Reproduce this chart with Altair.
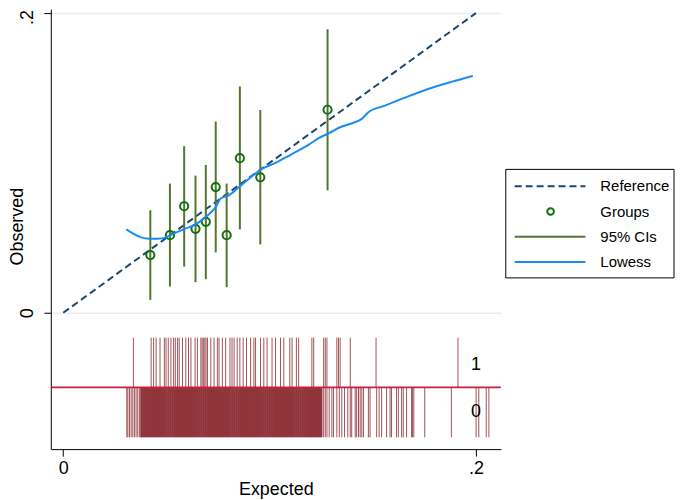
import altair as alt
import pandas as pd

# ---- data ----
grp_x = [0.0422, 0.0517, 0.0586, 0.0641, 0.0691, 0.0739, 0.0792, 0.0856, 0.0955, 0.1281]
grp_y = [0.0385, 0.0518, 0.0711, 0.0560, 0.0607, 0.0839, 0.0518, 0.1032, 0.0904, 0.1355]
ci_lo = [0.0086, 0.0175, 0.0308, 0.0204, 0.0224, 0.0403, 0.0171, 0.0556, 0.0456, 0.0817]
ci_hi = [0.0684, 0.0862, 0.1112, 0.0915, 0.0986, 0.1276, 0.0862, 0.1510, 0.1353, 0.1892]

low_x = [0.0305, 0.0337, 0.0377, 0.0417, 0.0458, 0.0498, 0.0538, 0.0594, 0.0643, 0.0691,
         0.0739, 0.0763, 0.0803, 0.0852, 0.0900, 0.0964, 0.1029, 0.1083, 0.1141, 0.1190,
         0.1238, 0.1290, 0.1342, 0.1400, 0.1447, 0.1479, 0.1559, 0.1672, 0.1768, 0.1881,
         0.1985]
low_y = [0.0556, 0.0530, 0.0503, 0.0494, 0.0494, 0.0503, 0.0530, 0.0563, 0.0591, 0.0640,
         0.0706, 0.0762, 0.0784, 0.0839, 0.0895, 0.0961, 0.1000, 0.1040, 0.1083, 0.1122,
         0.1165, 0.1200, 0.1238, 0.1265, 0.1294, 0.1338, 0.1382, 0.1444, 0.1493, 0.1541,
         0.1581]

ref_x = [0.0, 0.2]
ref_y = [0.0, 0.2]

rug1 = [0.0340, 0.0426, 0.0438, 0.0450, 0.0469, 0.0490, 0.0498, 0.0509, 0.0522, 0.0535,
        0.0543, 0.0554, 0.0562, 0.0578, 0.0594, 0.0607, 0.0619, 0.0639, 0.0650, 0.0667,
        0.0673, 0.0679, 0.0686, 0.0692, 0.0699, 0.0715, 0.0731, 0.0747, 0.0755, 0.0771,
        0.0787, 0.0808, 0.0818, 0.0828, 0.0843, 0.0856, 0.0872, 0.0888, 0.0908, 0.0924,
        0.0932, 0.0956, 0.0972, 0.0988, 0.1012, 0.1029, 0.1053, 0.1069, 0.1098, 0.1109,
        0.1130, 0.1141, 0.1205, 0.1214, 0.1262, 0.1270, 0.1278, 0.1326, 0.1334, 0.1342,
        0.1391, 0.1516, 0.1913]

rug0 = [0.0308, 0.0313, 0.0321, 0.0329, 0.0337, 0.0345, 0.0353, 0.0361, 0.0369, 0.0377,
        0.1262, 0.1270, 0.1278, 0.1289, 0.1302, 0.1310, 0.1326, 0.1338, 0.1350, 0.1363,
        0.1379, 0.1391, 0.1398, 0.1415, 0.1422, 0.1431, 0.1439, 0.1447, 0.1455, 0.1479,
        0.1487, 0.1519, 0.1531, 0.1543, 0.1567, 0.1584, 0.1591, 0.1615, 0.1624, 0.1640,
        0.1648, 0.1664, 0.1688, 0.1693, 0.1699, 0.1752, 0.1881, 0.2001, 0.2014, 0.2050,
        0.2063]

# densely packed part of the 0-rug (reads as a solid band)
rug0_dense = [0.038, 0.039, 0.040, 0.041, 0.042, 0.043, 0.044, 0.045, 0.046, 0.047,
              0.048, 0.049, 0.050, 0.051, 0.052, 0.053, 0.054, 0.055, 0.056, 0.057,
              0.058, 0.059, 0.060, 0.061, 0.062, 0.063, 0.064, 0.065, 0.066, 0.067,
              0.068, 0.069, 0.070, 0.071, 0.072, 0.073, 0.074, 0.075, 0.076, 0.077,
              0.078, 0.079, 0.080, 0.081, 0.082, 0.083, 0.084, 0.085, 0.086, 0.087,
              0.088, 0.089, 0.090, 0.091, 0.092, 0.093, 0.094, 0.095, 0.096, 0.097,
              0.098, 0.099, 0.100, 0.101, 0.102, 0.103, 0.104, 0.105, 0.106, 0.107,
              0.108, 0.109, 0.110, 0.111, 0.112, 0.113, 0.114, 0.115, 0.116, 0.117,
              0.118, 0.119, 0.120, 0.121, 0.122, 0.123, 0.124, 0.125]

rug_labels = ["1", "0"]
rug_label_y = [-0.0346, -0.0664]
legend_labels = ["Reference", "Groups", "95% CIs", "Lowess"]

# ---- styling ----
FONT = "Liberation Sans"
C_REF = "#1a476f"
C_PT = "#11700f"
C_CI = "#55752f"
C_LOW = "#1a8cf0"
C_RUG = "#90353b"
C_RED = "#d01c3c"

X_MIN, X_MAX = -0.00603, 0.21206
Y_MIN, Y_MAX = -0.0910, 0.20266
RUG_TOP, RUG_MID, RUG_BOT = -0.0166, -0.0498, -0.0831

xs = alt.Scale(domain=[X_MIN, X_MAX], nice=False, zero=False)
ys = alt.Scale(domain=[Y_MIN, Y_MAX], nice=False, zero=False)

LABEL_EXPR = "datum.value == 0 ? '0' : replace(toString(datum.value), '0.', '.')"

x_axis = alt.Axis(values=[0, 0.2], title="Expected", grid=False, labelExpr=LABEL_EXPR,
                  tickSize=7, labelPadding=3, labelBaseline="top", labelAlign="center",
                  titleX=226, titleY=46, titleBaseline="alphabetic", titleAlign="center")
y_axis = alt.Axis(values=[0, 0.2], title="Observed", grid=True, gridColor="#e6edf0", gridWidth=1.5,
                  labelExpr=LABEL_EXPR,
                  tickSize=7, labelPadding=11, labelAngle=270, labelAlign="center",
                  labelBaseline="alphabetic",
                  labelOffset={"condition": {"test": "datum.value > 0.1", "value": 4}, "value": 0},
                  titleAngle=270, titleX=-28, titleY=218, titleAlign="center",
                  titleBaseline="alphabetic")

def X(field):
    return alt.X(field, type="quantitative", scale=xs, axis=x_axis)

def Y(field):
    return alt.Y(field, type="quantitative", scale=ys, axis=y_axis)

grp_df = pd.DataFrame({"x": grp_x, "y": grp_y, "lo": ci_lo, "hi": ci_hi})
low_df = pd.DataFrame({"x": low_x, "y": low_y})
ref_df = pd.DataFrame({"x": ref_x, "y": ref_y})
rug1_df = pd.DataFrame({"x": rug1})
rug0_df = pd.DataFrame({"x": rug0})
rug0d_df = pd.DataFrame({"x": rug0_dense})
lab_df = pd.DataFrame({"t": rug_labels, "y": rug_label_y})
one = pd.DataFrame({"k": [0]})

ref = alt.Chart(ref_df).mark_line(color=C_REF, strokeWidth=2, strokeDash=[7, 4]).encode(
    x=X("x"), y=Y("y"))
ci = alt.Chart(grp_df).mark_rule(color=C_CI, strokeWidth=2).encode(
    x=X("x"), y=Y("lo"), y2="hi")
pts = alt.Chart(grp_df).mark_point(shape="circle", color=C_PT, size=68, strokeWidth=2,
                                   filled=False, opacity=1).encode(x=X("x"), y=Y("y"))
low = alt.Chart(low_df).mark_line(color=C_LOW, strokeWidth=2, interpolate="monotone").encode(
    x=X("x"), y=Y("y"))

r1 = alt.Chart(rug1_df).mark_rule(color=C_RUG, strokeWidth=1, opacity=0.85).encode(
    x=X("x"), y=alt.YDatum(RUG_TOP, scale=ys, axis=y_axis, type="quantitative"), y2=alt.Y2Datum(RUG_MID))
r0 = alt.Chart(rug0_df).mark_rule(color=C_RUG, strokeWidth=1, opacity=0.85).encode(
    x=X("x"), y=alt.YDatum(RUG_MID, scale=ys, axis=y_axis, type="quantitative"), y2=alt.Y2Datum(RUG_BOT))
r0d = alt.Chart(rug0d_df).mark_rule(color=C_RUG, strokeWidth=2.6, opacity=1).encode(
    x=X("x"), y=alt.YDatum(RUG_MID, scale=ys, axis=y_axis, type="quantitative"), y2=alt.Y2Datum(RUG_BOT))
red = alt.Chart(one).mark_rule(color=C_RED, strokeWidth=1.6).encode(
    x=alt.XDatum(X_MIN, scale=xs, axis=x_axis, type="quantitative"), x2=alt.X2Datum(X_MAX),
    y=alt.YDatum(RUG_MID, scale=ys, axis=y_axis, type="quantitative"))
labs = alt.Chart(lab_df).mark_text(font=FONT, fontSize=18, color="black", align="center",
                                   baseline="middle").encode(
    x=alt.XDatum(0.2, scale=xs, axis=x_axis, type="quantitative"), y=Y("y"), text="t:N")

main = alt.layer(r0d, r0, r1, red, ref, ci, pts, low, labs)

# ---- legend (drawn as its own layer) ----
leg_df = pd.DataFrame({"label": legend_labels})
ly = alt.Y("label:N", scale=alt.Scale(type="point", domain=legend_labels, range=[178, 254], padding=0),
           axis=None)
box = alt.Chart(one).mark_rect(fill="white", stroke="black", strokeWidth=1).encode(
    x=alt.value(457), x2=alt.value(626), y=alt.value(161), y2=alt.value(270))
leg_lines = alt.Chart(leg_df).transform_filter(alt.datum.label != "Groups").mark_rule(
    strokeWidth=2).encode(
    x=alt.value(466), x2=alt.value(537), y=ly,
    color=alt.Color("label:N", scale=alt.Scale(domain=legend_labels,
                                               range=[C_REF, C_PT, C_CI, C_LOW]), legend=None),
    strokeDash=alt.StrokeDash("label:N", scale=alt.Scale(domain=legend_labels,
                                                          range=[[7, 4], [1, 0], [1, 0], [1, 0]]),
                              legend=None))
leg_pt = alt.Chart(leg_df).transform_filter(alt.datum.label == "Groups").mark_point(
    shape="circle", color=C_PT, size=45, strokeWidth=2, filled=False, opacity=1).encode(
    x=alt.value(502), y=ly)
leg_txt = alt.Chart(leg_df).mark_text(font=FONT, fontSize=15, color="black", align="left",
                                      baseline="middle").encode(x=alt.value(552), y=ly, text="label:N")
legend = alt.layer(box, leg_lines, leg_pt, leg_txt)

chart = alt.layer(main, legend).resolve_scale(y="independent", color="independent").properties(
    width=452, height=442,
    autosize=alt.AutoSizeParams(type="none"),
    padding={"left": 43, "top": 0, "right": 177, "bottom": 50},
    background="white",
).configure_view(stroke=None).configure_axis(
    domainColor="black", tickColor="black", labelColor="black", titleColor="black",
    labelFont=FONT, titleFont=FONT, labelFontSize=18, titleFontSize=18,
    titleFontWeight="normal", domainWidth=1, tickWidth=1,
)

chart.save("out.html", embed_options={"renderer": "svg", "actions": False})
